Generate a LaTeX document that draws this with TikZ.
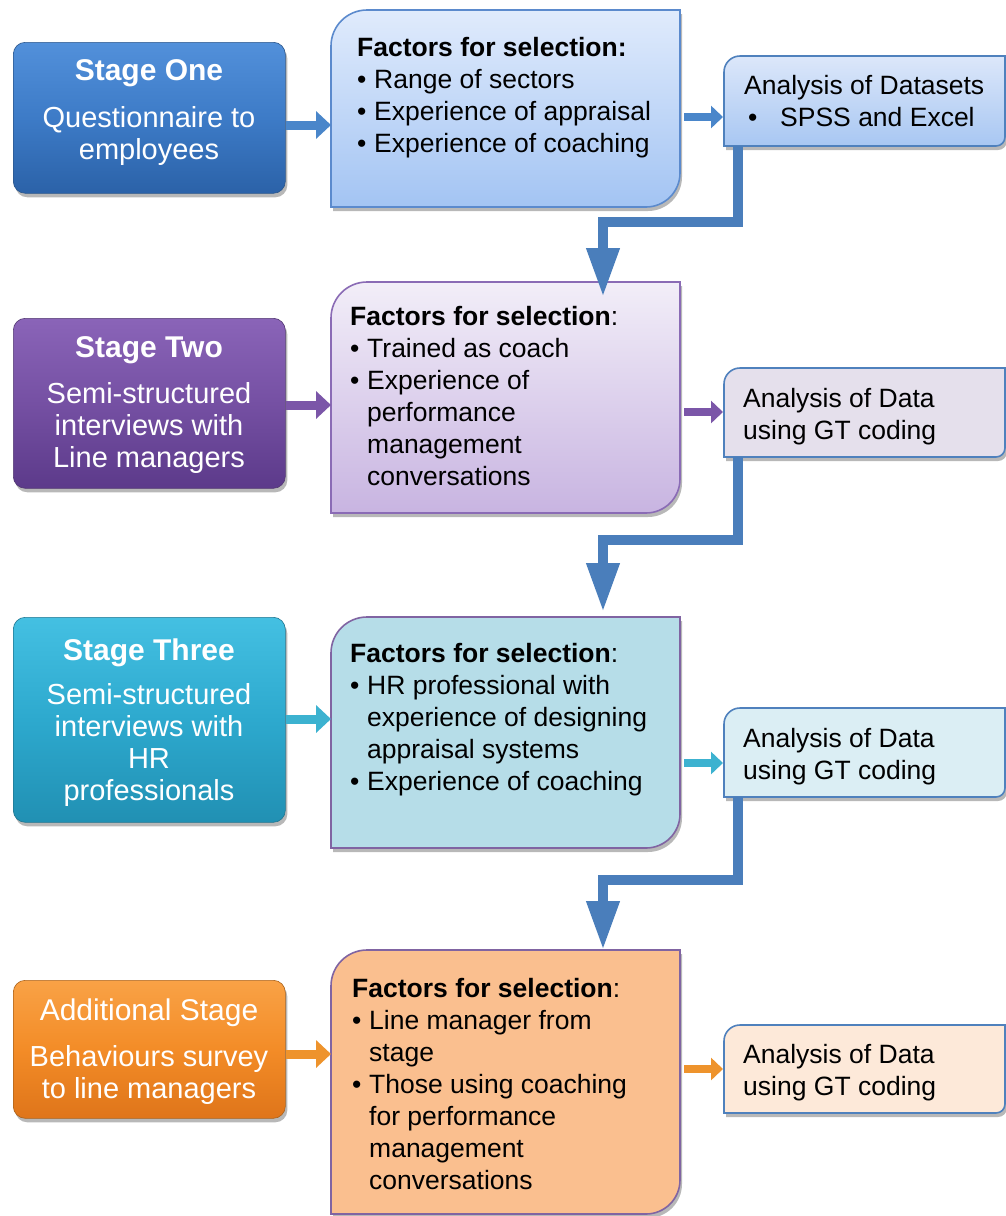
\documentclass[tikz,border=0pt]{standalone}
\usepackage{fontspec}
\setmainfont{Liberation Sans}
\usetikzlibrary{arrows.meta,calc,shadows}

\definecolor{sOneT}{HTML}{5290DA}\definecolor{sOneM}{HTML}{3D7BC7}\definecolor{sOneB}{HTML}{2B62A8}
\definecolor{sTwoT}{HTML}{8A64B8}\definecolor{sTwoM}{HTML}{7550A3}\definecolor{sTwoB}{HTML}{5C3A8A}
\definecolor{sThrT}{HTML}{44C0E2}\definecolor{sThrM}{HTML}{2DA9CE}\definecolor{sThrB}{HTML}{2190B3}
\definecolor{sFouT}{HTML}{F9A246}\definecolor{sFouM}{HTML}{F38C27}\definecolor{sFouB}{HTML}{DF751A}
\definecolor{mOneT}{HTML}{E0EBFC}\definecolor{mOneB}{HTML}{A3C4F3}\definecolor{mOneD}{HTML}{5B8ACD}
\definecolor{mTwoT}{HTML}{F2EEF8}\definecolor{mTwoB}{HTML}{C8B4E1}\definecolor{mTwoD}{HTML}{8A6BB5}
\definecolor{mThr}{HTML}{B6DDE8}\definecolor{mFou}{HTML}{FABF8F}\definecolor{mPur}{HTML}{8064A2}
\definecolor{rOneT}{HTML}{DCE7FA}\definecolor{rOneB}{HTML}{A8C7F2}
\definecolor{rTwo}{HTML}{E5E0EC}\definecolor{rThr}{HTML}{DBEEF4}\definecolor{rFou}{HTML}{FDE9D9}
\definecolor{rEdge}{HTML}{4F81BD}
\definecolor{aBlue}{HTML}{4A86CA}\definecolor{aPur}{HTML}{7B56A8}
\definecolor{aCyan}{HTML}{3CB2D0}\definecolor{aOra}{HTML}{EE932C}
\definecolor{conn}{HTML}{4A7EBB}

\newcommand\itmark{\makebox[17pt][l]{•}}
\newcommand\hangsp{\hspace*{17pt}}
\newcommand\ctab[1]{\begin{tabular}{@{}c@{}}#1\end{tabular}}
\newcommand\ltab[1]{\begin{tabular}{@{}l@{}}#1\end{tabular}}
\newcommand\diagbox[4]{\path[#4] (#1.south west) -- ($(#1.north west)+(0,-#2)$)
  arc[start angle=180,end angle=90,radius=#2] -- (#1.north east) --
  ($(#1.south east)+(0,#3)$) arc[start angle=0,end angle=-90,radius=#3] -- cycle;}

\tikzset{
  shad/.style={drop shadow={shadow xshift=2pt,shadow yshift=-4pt,opacity=0.28,fill=black}},
  stagebox/.style={rectangle,rounded corners=12pt,anchor=north west,inner sep=0pt,
    minimum width=272pt,draw=#1!70!black,line width=0.6pt,shad},
  boxarea/.style={rectangle,anchor=north west,inner sep=0pt,outer sep=0pt,draw=none},
  mbox/.style={draw=#1,line width=1.6pt,shad},
  rbox/.style={draw=rEdge,line width=1.6pt,shad},
  sttl/.style={text=white,inner sep=0pt,font=\bfseries\fontsize{30}{32}\selectfont},
  sbody/.style={text=white,inner sep=0pt,font=\fontsize{29}{32}\selectfont},
  mtext/.style={anchor=west,inner sep=0pt,font=\fontsize{26.5}{32}\selectfont},
  larr/.style={line width=9pt,draw=#1,-{Triangle[length=15pt,width=27pt]}},
  rarr/.style={line width=8pt,draw=#1,-{Triangle[length=12pt,width=22pt]}},
  bigconn/.style={line width=10pt,draw=conn,-{Triangle[length=49pt,width=31pt]}}
}

\begin{document}
\begin{tikzpicture}[x=1pt,y=1pt]
\useasboundingbox (0,0) rectangle (1006,-1216);
\fill[white] (0,0) rectangle (1006,-1216);

% ---- stage boxes
\node[stagebox=sOneM,top color=sOneT,bottom color=sOneB,middle color=sOneM,minimum height=151pt] (s1) at (13,-42) {};
\node[stagebox=sTwoM,top color=sTwoT,bottom color=sTwoB,middle color=sTwoM,minimum height=170pt] (s2) at (13,-318) {};
\node[stagebox=sThrM,top color=sThrT,bottom color=sThrB,middle color=sThrM,minimum height=205pt] (s3) at (13,-617) {};
\node[stagebox=sFouM,top color=sFouT,bottom color=sFouB,middle color=sFouM,minimum height=138pt] (s4) at (13,-980) {};

% ---- middle boxes
\node[boxarea,minimum width=349pt,minimum height=197pt] (m1) at (331,-10) {};
\node[boxarea,minimum width=349pt,minimum height=231pt] (m2) at (331,-282) {};
\node[boxarea,minimum width=349pt,minimum height=231pt] (m3) at (331,-617) {};
\node[boxarea,minimum width=349pt,minimum height=264pt] (m4) at (331,-950) {};
\diagbox{m1}{36}{34}{mbox=mOneD,top color=mOneT,bottom color=mOneB}
\diagbox{m2}{36}{34}{mbox=mTwoD,top color=mTwoT,bottom color=mTwoB}
\diagbox{m3}{36}{34}{mbox=mPur,fill=mThr}
\diagbox{m4}{36}{34}{mbox=mPur,fill=mFou}

% ---- right boxes
\node[boxarea,minimum width=281pt,minimum height=90pt] (r1) at (724,-56) {};
\node[boxarea,minimum width=281pt,minimum height=89pt] (r2) at (724,-368) {};
\node[boxarea,minimum width=281pt,minimum height=89pt] (r3) at (724,-708) {};
\node[boxarea,minimum width=281pt,minimum height=88pt] (r4) at (724,-1025) {};
\diagbox{r1}{16}{9}{rbox,top color=rOneT,bottom color=rOneB}
\diagbox{r2}{16}{9}{rbox,fill=rTwo}
\diagbox{r3}{16}{9}{rbox,fill=rThr}
\diagbox{r4}{16}{9}{rbox,fill=rFou}

% ---- stage texts
\node[sttl] (s1t) at (149,-74) {\ctab{Stage One}};
\node[sbody] (s1b) at (149,-137) {\ctab{Questionnaire to\\employees}};
\node[sttl] (s2t) at (149,-351) {\ctab{Stage Two}};
\node[sbody] (s2b) at (149,-429) {\ctab{Semi-structured\\interviews with\\Line managers}};
\node[sttl] (s3t) at (149,-654) {\ctab{Stage Three}};
\node[sbody] (s3b) at (149,-746) {\ctab{Semi-structured\\interviews with\\HR\\professionals}};
\node[sbody,font=\fontsize{30}{32}\selectfont] (s4t) at (149,-1014) {\ctab{Additional Stage}};
\node[sbody] (s4b) at (149,-1076) {\ctab{Behaviours survey\\to line managers}};

% ---- middle texts
\node[mtext] (m1x) at (357,-97.6) {\ltab{\textbf{Factors for selection:}\\
  \itmark Range of sectors\\ \itmark Experience of appraisal\\ \itmark Experience of coaching}};
\node[mtext] (m2x) at (350,-399) {\ltab{\textbf{Factors for selection}:\\
  \itmark Trained as coach\\ \itmark Experience of\\ \hangsp performance\\
  \hangsp management\\ \hangsp conversations}};
\node[mtext] (m3x) at (350,-720) {\ltab{\textbf{Factors for selection}:\\
  \itmark HR professional with\\ \hangsp experience of designing\\
  \hangsp appraisal systems\\ \itmark Experience of coaching}};
\node[mtext] (m4x) at (352,-1087) {\ltab{\textbf{Factors for selection}:\\
  \itmark Line manager from\\ \hangsp stage\\ \itmark Those using coaching\\
  \hangsp for performance\\ \hangsp management\\ \hangsp conversations}};

% ---- right texts
\node[mtext] (r1x) at (744,-104) {\ltab{Analysis of Datasets\\
  \hspace*{4pt}\makebox[32pt][l]{•}SPSS and Excel}};
\node[mtext] (r2x) at (743,-417) {\ltab{Analysis of Data\\using GT coding}};
\node[mtext] (r3x) at (743,-757) {\ltab{Analysis of Data\\using GT coding}};
\node[mtext] (r4x) at (743,-1073) {\ltab{Analysis of Data\\using GT coding}};

% ---- small arrows
\draw[larr=aBlue] (s1.east |- 0,-125) -- (m1.west |- 0,-125);
\draw[rarr=aBlue] ($(m1.east |- 0,-117)+(4,0)$) -- ($(r1.west |- 0,-117)+(-1,0)$);
\draw[larr=aPur] (s2.east |- 0,-405) -- (m2.west |- 0,-405);
\draw[rarr=aPur] ($(m2.east |- 0,-412)+(4,0)$) -- ($(r2.west |- 0,-412)+(-1,0)$);
\draw[larr=aCyan] (s3.east |- 0,-719) -- (m3.west |- 0,-719);
\draw[rarr=aCyan] ($(m3.east |- 0,-763)+(4,0)$) -- ($(r3.west |- 0,-763)+(-1,0)$);
\draw[larr=aOra] (s4.east |- 0,-1054) -- (m4.west |- 0,-1054);
\draw[rarr=aOra] ($(m4.east |- 0,-1069)+(4,0)$) -- ($(r4.west |- 0,-1069)+(-1,0)$);

% ---- big elbow connectors
\draw[bigconn] ($(r1.south west)+(14,0)$) -- ++(0,-76) -| ($(m2.north)+(97.5,-15)$);
\draw[bigconn] ($(r2.south west)+(14,0)$) -- ++(0,-83) -| ($(m3.north)+(97.5,5)$);
\draw[bigconn] ($(r3.south west)+(14,0)$) -- ++(0,-83) -| ($(m4.north)+(97.5,0)$);
\end{tikzpicture}
\end{document}
